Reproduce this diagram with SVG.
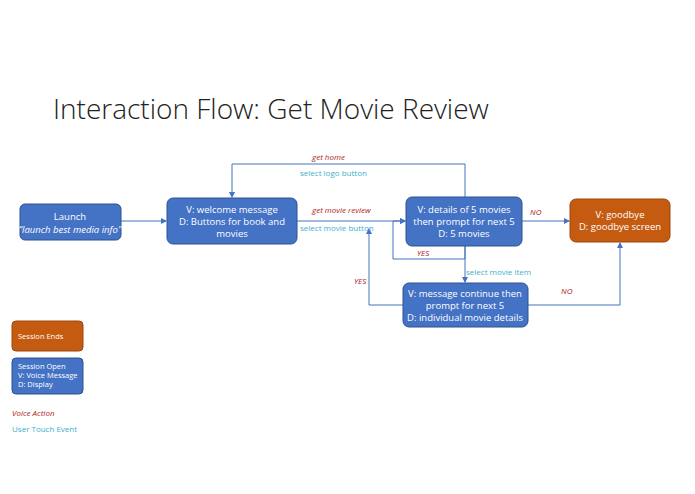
<svg xmlns="http://www.w3.org/2000/svg" width="695" height="494" viewBox="0 0 695 494">
<defs>
<marker id="a" markerWidth="6" markerHeight="6" refX="5" refY="3" orient="auto" markerUnits="userSpaceOnUse"><path d="M0,0 L6,3 L0,6 z" fill="#4472C4"/></marker>
<style>
text{font-family:"Open Sans","Liberation Sans",sans-serif}
.b{fill:#4472C4;stroke:#2F528F;stroke-width:1}
.o{fill:#C55A11;stroke:#A0460C;stroke-width:1}
.t{fill:#fff;font-size:9.5px;text-anchor:middle}
.l{fill:none;stroke:#4472C4;stroke-width:1;marker-end:url(#a)}
.v{fill:#B22222;font-size:8px;font-style:italic}
.u{fill:#3EAFCB;font-size:8px}
.s{fill:#fff;font-size:7.5px}
</style>
</defs>
<rect width="695" height="494" fill="#fff"/>
<text x="53" y="119" font-size="28" font-weight="300" fill="#222">Interaction Flow: Get Movie Review</text>
<g id="connectors">
<path class="l" d="M121,221 H166"/>
<path class="l" d="M465,197 V164 H232 V197"/>
<path class="l" d="M297,221 H405"/>
<path class="l" d="M522,221 H569"/>
<path class="l" d="M465,246 V259 H393 V221 H405"/>
<path class="l" d="M465,246 V282"/>
<path class="l" d="M403,305 H369 V229"/>
<path class="l" d="M528,305 H620 V243"/>
<text class="v" x="312" y="160">get home</text>
<text class="u" x="300" y="176">select logo button</text>
<text class="v" x="312" y="213">get movie review</text>
<text class="u" x="300" y="231">select movie button</text>
<text class="v" x="530" y="215">NO</text>
<text class="v" x="417" y="256">YES</text>
<text class="u" x="466" y="275">select movie item</text>
<text class="v" x="354" y="284">YES</text>
<text class="v" x="561" y="294">NO</text>
</g>
<g id="launch"><rect class="b" x="20" y="204" width="101" height="36" rx="5"/>
<text class="t" x="70" y="220" font-size="12">Launch</text>
<text class="t" x="70" y="233" font-size="8" font-style="italic">“launch best media info”</text></g>
<g id="welcome"><rect class="b" x="167" y="198" width="130" height="46" rx="6"/>
<text class="t" x="232" y="213">V: welcome message</text>
<text class="t" x="232" y="225">D: Buttons for book and</text>
<text class="t" x="232" y="237">movies</text></g>
<g id="details"><rect class="b" x="406" y="197" width="116" height="49" rx="6"/>
<text class="t" x="464" y="213">V: details of 5 movies</text>
<text class="t" x="464" y="225">then prompt for next 5</text>
<text class="t" x="464" y="237">D: 5 movies</text></g>
<g id="goodbye"><rect class="o" x="570" y="199" width="100" height="43" rx="6"/>
<text class="t" x="620" y="218">V: goodbye</text>
<text class="t" x="620" y="230">D: goodbye screen</text></g>
<g id="message"><rect class="b" x="403" y="283" width="125" height="44" rx="6"/>
<text class="t" x="465" y="297">V: message continue then</text>
<text class="t" x="465" y="309">prompt for next 5</text>
<text class="t" x="465" y="321">D: individual movie details</text></g>
<g id="legend-ends"><rect class="o" x="12" y="321" width="71" height="30" rx="4"/>
<text class="s" x="18" y="339">Session Ends</text></g>
<g id="legend-open"><rect class="b" x="12" y="358" width="71" height="36" rx="4"/>
<text class="s" x="18" y="369">Session Open</text>
<text class="s" x="18" y="378">V: Voice Message</text>
<text class="s" x="18" y="387">D: Display</text></g>
<text class="v" x="12" y="416">Voice Action</text>
<text class="u" x="12" y="432">User Touch Event</text>
</svg>
